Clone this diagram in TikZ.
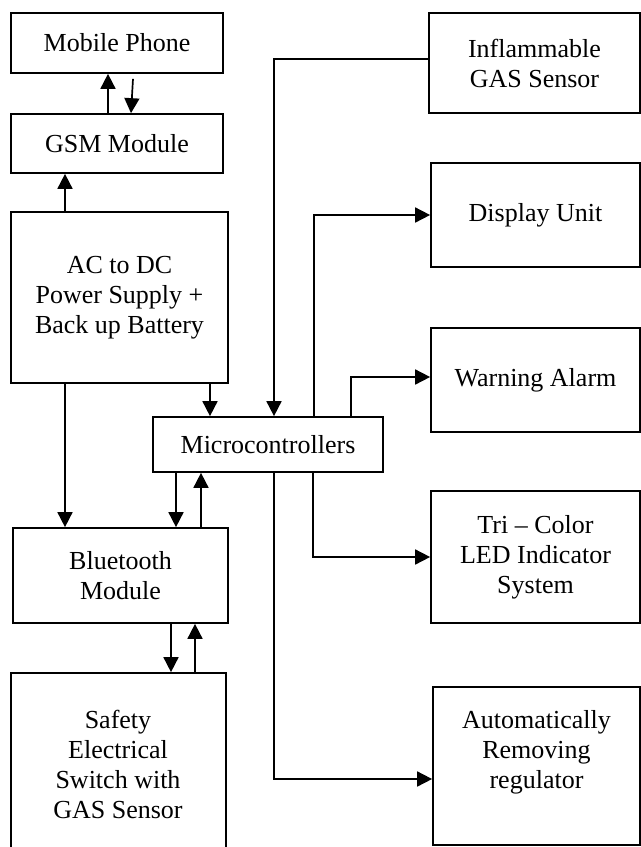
\documentclass[tikz,border=0pt]{standalone}
\usepackage{fontspec}
\setmainfont{Liberation Serif}
\usetikzlibrary{arrows.meta,calc}
\begin{document}
\begin{tikzpicture}[x=0.5pt,y=-0.5pt,
  blk/.style={draw,line width=0.85pt,rectangle,inner sep=0pt,align=center,font=\fontsize{13}{15}\selectfont},
  lbl/.style={inner sep=0pt,align=center,font=\fontsize{13}{15}\selectfont},
  arr/.style={line width=0.85pt,-{Triangle[length=7.5pt,width=7.5pt]}}]
\useasboundingbox (0,0) rectangle (641,847);
\clip (0,0) rectangle (641,847);
% left column
\node[blk,minimum width=106pt,minimum height=30pt] (mobile) at (117,43) {Mobile Phone};
\node[blk,minimum width=106pt,minimum height=29.5pt] (gsm) at (117,143.5) {GSM Module};
\node[blk,minimum width=108.5pt,minimum height=85.5pt] (ac) at (119.5,297.5) {AC to DC\\Power Supply +\\Back up Battery};
\node[blk,minimum width=115pt,minimum height=27.5pt] (micro) at (268,444.5) {Microcontrollers};
\node[blk,minimum width=107.5pt,minimum height=47.5pt] (bt) at (120.5,575.5) {Bluetooth\\Module};
\node[blk,minimum width=107.5pt,minimum height=98.5pt] (safe) at (118.5,771.5) {};
\node[lbl] (safetext) at (118,764) {Safety\\Electrical\\Switch with\\GAS Sensor};
% right column
\node[blk,minimum width=105.5pt,minimum height=50pt] (gas) at (534.5,63) {Inflammable\\GAS Sensor};
\node[blk,minimum width=104.5pt,minimum height=52pt] (disp) at (535.5,215) {Display Unit};
\node[blk,minimum width=104.5pt,minimum height=52pt] (warn) at (535.5,380) {Warning Alarm};
\node[blk,minimum width=104.5pt,minimum height=66pt] (tri) at (535.5,557) {Tri -- Color\\LED Indicator\\System};
\node[blk,minimum width=103.5pt,minimum height=79pt] (auto) at (536.5,766) {};
\node[lbl] (autotext) at (536.5,752) {Automatically\\Removing\\regulator};
% connectors
\draw[arr] (gsm.north -| 108,0) -- (mobile.south -| 108,0);
\draw[arr] ($(mobile.south -| 133,0)+(0,5)$) -- (gsm.north -| 131,0);
\draw[arr] (ac.north -| 65,0) -- (gsm.south -| 65,0);
\draw[arr] (ac.south -| 65,0) -- (bt.north -| 65,0);
\draw[arr] (ac.south -| 210,0) -- (micro.north -| 210,0);
\draw[arr] (gas.west |- 0,59) -| (micro.north -| 274,0);
\draw[arr] (micro.north -| 314,0) |- (disp.west);
\draw[arr] (micro.north -| 351,0) |- (warn.west |- 0,377);
\draw[arr] (micro.south -| 176,0) -- (bt.north -| 176,0);
\draw[arr] (bt.north -| 201,0) -- (micro.south -| 201,0);
\draw[arr] (bt.south -| 171,0) -- (safe.north -| 171,0);
\draw[arr] (safe.north -| 195,0) -- (bt.south -| 195,0);
\draw[arr] (micro.south -| 313,0) |- (tri.west);
\draw[arr] (micro.south -| 274,0) |- (auto.west |- 0,779);
\end{tikzpicture}
\end{document}
